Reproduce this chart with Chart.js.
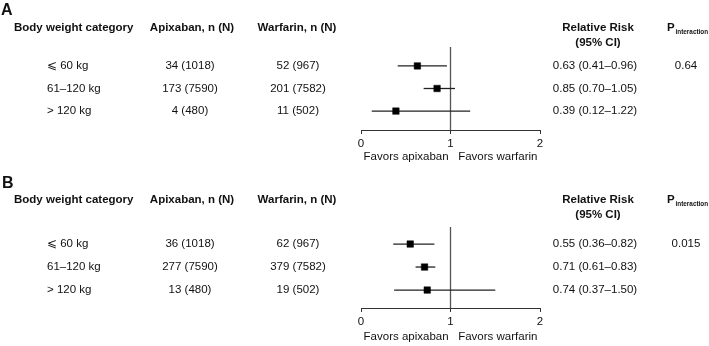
<!DOCTYPE html>
<html><head><meta charset="utf-8">
<script src="https://cdn.jsdelivr.net/npm/chart.js@4.4.1/dist/chart.umd.min.js"></script>
<style>
html,body{margin:0;padding:0;background:#fff;}
#wrap{position:relative;width:709px;height:346px;overflow:hidden;}
#wrap canvas{position:absolute;left:0;top:0;}
</style></head><body>
<div id="wrap"><canvas id="cA" width="709" height="346"></canvas><canvas id="cB" width="709" height="346"></canvas></div>
<script>
// ---- data ----
const categories = ['\u2A7D 60 kg', '61\u2013120 kg', '> 120 kg'];
const apixTotals = [1018, 7590, 480];
const warfTotals = [967, 7582, 502];
const headers = ['Body weight category', 'Apixaban, n (N)', 'Warfarin, n (N)'];
const xTicks = [0, 1, 2];

// Panel A
const apixEventsA = [34, 173, 4];
const warfEventsA = [52, 201, 11];
const rrA = [0.63, 0.85, 0.39];
const loA = [0.41, 0.70, 0.12];
const hiA = [0.96, 1.05, 1.22];
const pA = '0.64';

// Panel B
const apixEventsB = [36, 277, 13];
const warfEventsB = [62, 379, 19];
const rrB = [0.55, 0.71, 0.74];
const loB = [0.36, 0.61, 0.37];
const hiB = [0.82, 0.83, 1.50];
const pB = '0.015';

const FAM = '"Liberation Sans", Arial, Helvetica, sans-serif';
const TXT = '#111';

const colsPlugin = {
  id: 'cols',
  afterDraw(chart, args, o) {
    const ctx = chart.ctx, ys = chart.scales.y;
    ctx.save();
    ctx.fillStyle = TXT;
    // panel letter
    ctx.font = 'bold 16px ' + FAM;
    ctx.textAlign = 'left'; ctx.textBaseline = 'alphabetic';
    ctx.fillText(o.letter, o.letterX, o.letterY);
    // headers
    ctx.font = 'bold 11.5px ' + FAM;
    ctx.textBaseline = 'middle';
    ctx.textAlign = 'left';
    ctx.fillText(headers[0], 14, o.hy);
    ctx.textAlign = 'center';
    ctx.fillText(headers[1], 192, o.hy);
    ctx.fillText(headers[2], 297, o.hy);
    ctx.fillText('Relative Risk', 598, o.hy);
    ctx.fillText('(95% CI)', 598, o.hy + 15);
    ctx.textAlign = 'left';
    ctx.fillText('P', 667, o.hy);
    ctx.font = 'bold 6.4px ' + FAM;
    ctx.fillText('interaction', 675.5, o.hy + 4);
    // rows
    ctx.font = '11.5px ' + FAM;
    for (let i = 0; i < categories.length; i++) {
      const y = ys.getPixelForValue(i + 1);
      ctx.textAlign = 'left';
      ctx.fillText(categories[i], 47, y);
      ctx.textAlign = 'center';
      ctx.fillText(o.apix[i] + ' (' + apixTotals[i] + ')', 190, y);
      ctx.fillText(o.warf[i] + ' (' + warfTotals[i] + ')', 298, y);
      ctx.fillText(o.rr[i].toFixed(2) + ' (' + o.lo[i].toFixed(2) + '\u2013' + o.hi[i].toFixed(2) + ')', 595, y);
      if (i === 0) ctx.fillText(o.p, 686, y);
    }
    ctx.restore();
  }
};

function makePanel(id, rr, lo, hi, apix, warf, p, g) {
  const datasets = [];
  datasets.push({
    data: rr.map((v, i) => ({x: v, y: i + 1})),
    pointStyle: 'rect', pointRadius: 4.6, backgroundColor: '#000',
    borderColor: '#000', borderWidth: 0.5, showLine: false
  });
  for (let i = 0; i < rr.length; i++) {
    datasets.push({
      data: [{x: lo[i], y: i + 1}, {x: hi[i], y: i + 1}],
      showLine: true, borderColor: '#222', borderWidth: 1.3, pointRadius: 0
    });
  }
  datasets.push({
    data: [{x: 1, y: g.ymin}, {x: 1, y: g.ymax}],
    showLine: true, borderColor: '#555', borderWidth: 1.3, pointRadius: 0
  });
  return new Chart(document.getElementById(id), {
    type: 'scatter',
    data: {datasets},
    plugins: [colsPlugin],
    options: {
      responsive: false, animation: false, clip: false,
      layout: {padding: {left: 361, right: 169, top: g.top, bottom: g.pb}},
      plugins: {
        legend: {display: false}, tooltip: {enabled: false},
        cols: {letter: g.letter, letterX: g.lx, letterY: g.ly, hy: g.hy, apix, warf, rr, lo, hi, p}
      },
      scales: {
        x: {
          type: 'linear', min: 0, max: 2,
          afterBuildTicks: s => { s.ticks = xTicks.map(v => ({value: v})); },
          afterFit: s => { s.height = g.axisH; },
          ticks: {color: TXT, font: {size: 11.5, family: FAM}, padding: 3},
          grid: {drawOnChartArea: false, drawTicks: true, tickLength: 4, color: '#333', lineWidth: 1},
          border: {display: true, color: '#333', width: 1},
          title: {display: true, text: 'Favors apixaban   Favors warfarin', color: TXT,
                  font: {size: 11.5, family: FAM}, padding: {top: 0, bottom: 0}}
        },
        y: {type: 'linear', reverse: true, min: g.ymin, max: g.ymax, display: false}
      }
    }
  });
}

makePanel('cA', rrA, loA, hiA, apixEventsA, warfEventsA, pA,
  {letter: 'A', lx: 1, ly: 15, hy: 28, top: 47, axisH: 34, pb: 346 - 130 - 34, ymin: 0.16, ymax: 3.84});
makePanel('cB', rrB, loB, hiB, apixEventsB, warfEventsB, pB,
  {letter: 'B', lx: 2, ly: 188, hy: 200, top: 227, axisH: 36, pb: 346 - 308 - 36, ymin: 0.26, ymax: 3.78});
</script>
</body></html>
